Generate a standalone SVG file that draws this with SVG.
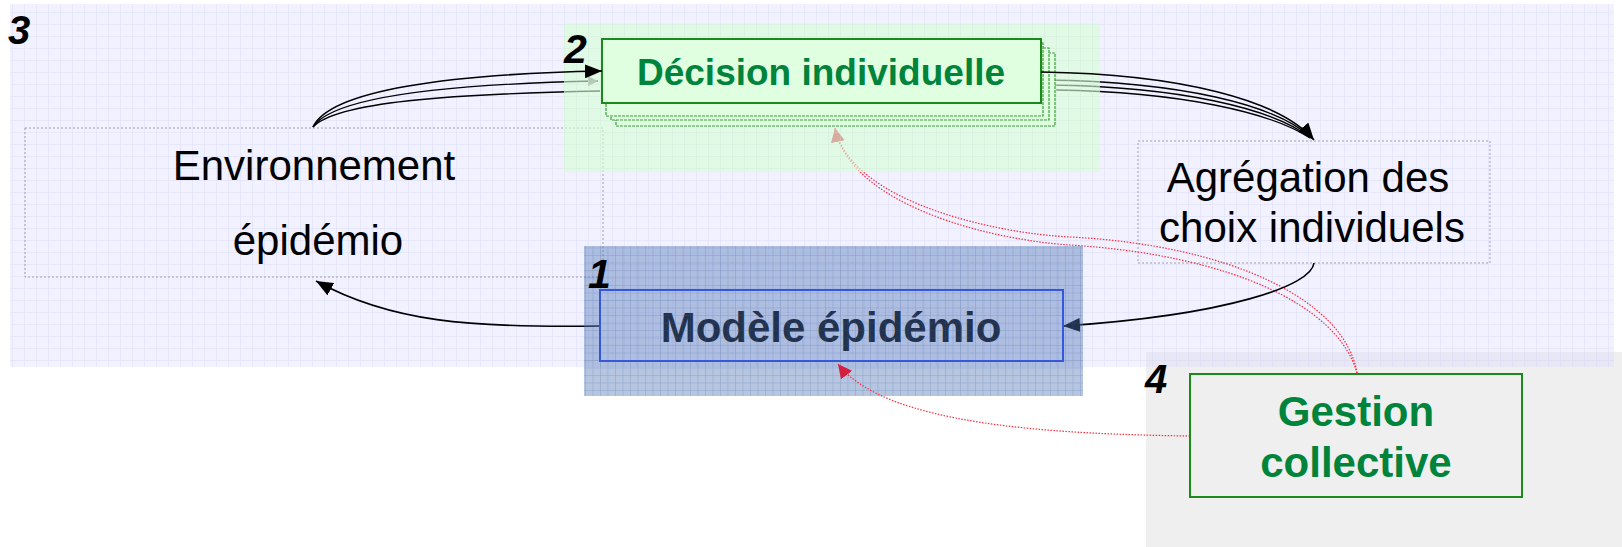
<svg xmlns="http://www.w3.org/2000/svg" width="1622" height="547" viewBox="0 0 1622 547">
<style>
.txt{font-family:"Liberation Sans",Arial,sans-serif;font-size:42px;fill:#000;text-anchor:middle}
.bold{font-weight:bold}
.num{font-family:"Liberation Sans",Arial,sans-serif;font-weight:bold;font-style:italic;fill:#000}
.dashbox{fill:none;stroke:#a0a0a8;stroke-width:1;stroke-dasharray:2 2}
.conn{fill:none;stroke:#000;stroke-width:1.6}
.shadowconn{fill:none;stroke:#000;stroke-width:1.3}
.red{fill:none;stroke:#ff2a3a;stroke-width:1.2;stroke-dasharray:1.5 1.5}
.green{fill:#00843c}
</style>
<defs>
<pattern id="gridLav" width="12" height="12" patternUnits="userSpaceOnUse"><path d="M12 0H0V12" fill="none" stroke="#d2d2f2" stroke-width="1"/></pattern>
<pattern id="gridGreen" width="12" height="12" patternUnits="userSpaceOnUse"><path d="M12 0H0V12" fill="none" stroke="#cfeccf" stroke-width="1"/></pattern>
<pattern id="gridBlue" width="7.5" height="7.5" patternUnits="userSpaceOnUse"><path d="M7.5 0H0V7.5" fill="none" stroke="#3a5e98" stroke-width="1" stroke-opacity="0.35"/></pattern>
<marker id="arr" markerUnits="userSpaceOnUse" markerWidth="18" markerHeight="14" refX="17" refY="7" orient="auto"><path d="M0,0 L17,7 L0,14 z" fill="#000"/></marker>
<marker id="arrGray" markerUnits="userSpaceOnUse" markerWidth="11" markerHeight="10" refX="10" refY="5" orient="auto"><path d="M0,0 L10,5 L0,10 z" fill="#777"/></marker>
<marker id="arrRed" markerUnits="userSpaceOnUse" markerWidth="15" markerHeight="14" refX="14" refY="7" orient="auto"><path d="M0,0 L14,7 L0,14 z" fill="#d42040"/></marker>
</defs>
<rect width="1622" height="547" fill="#fff"/>
<g id="zone4"><rect x="1146" y="352" width="476" height="195" fill="#efefef"/></g>
<g id="zone3">
<rect x="10" y="4" width="1604" height="363" fill="#dcdcff" fill-opacity="0.4"/>
<rect x="10" y="4" width="1604" height="363" fill="url(#gridLav)" opacity="0.6"/>
</g>
<g id="env"><rect class="dashbox" x="25" y="128" width="578" height="149"/></g>
<g id="agr"><rect class="dashbox" x="1138" y="141" width="352" height="122"/></g>
<g id="connectors-back">
<path class="shadowconn" d="M313,127 C333,96 450,84 598,81" marker-end="url(#arrGray)"/>
<path class="shadowconn" d="M313,127 C336,102 450,94 600,91"/>
<path class="shadowconn" d="M1046,80 C1180,82 1275,104 1312,138"/>
<path class="shadowconn" d="M1051,85 C1180,87 1272,108 1311,138"/>
<path class="shadowconn" d="M1056,90 C1180,92 1270,112 1310,138"/>
<path class="red" d="M1357,373 C1345,300 1230,245 1070,237 C990,233 850,200 835,128" marker-end="url(#arrRed)"/>
<path class="red" d="M1357,373 C1338,305 1230,255 1070,245 C990,240 850,205 835,128"/>
</g>
<g id="zone2">
<rect x="564" y="23" width="536" height="149" fill="#d6ffd6" fill-opacity="0.62"/>
<rect x="564" y="23" width="536" height="149" fill="url(#gridGreen)" opacity="0.5"/>
</g>
<g id="decision">
<rect x="616" y="53" width="439" height="73" fill="#e0ffe0" stroke="#3c9c3c" stroke-width="1.2" stroke-dasharray="3 1"/>
<rect x="611" y="48" width="438" height="72" fill="#e0ffe0" stroke="#3c9c3c" stroke-width="1.2" stroke-dasharray="3 1"/>
<rect x="606" y="43" width="437" height="73" fill="#e0ffe0" stroke="#3c9c3c" stroke-width="1.2" stroke-dasharray="3 1"/>
<rect x="602" y="39" width="439" height="64" fill="#e0ffe0" stroke="#1a8a1a" stroke-width="2"/>
<text class="txt bold green" x="821" y="85" style="font-size:37px">Décision individuelle</text>
</g>
<g id="connectors">
<path class="conn" d="M313,127 C330,90 450,74 602,71" marker-end="url(#arr)"/>
<path class="conn" d="M1041,72 C1180,74 1280,100 1314,140" marker-end="url(#arr)"/>
<path class="conn" d="M1314,263 C1312,285 1230,315 1063,326" marker-end="url(#arr)"/>
<path class="conn" d="M600,326 C470,328 390,322 316,281" marker-end="url(#arr)"/>
</g>
<g id="modele">
<rect x="600" y="290" width="463" height="71" fill="none" stroke="#2040ff" stroke-width="2"/>
<text class="txt bold" x="831" y="342" style="fill:#000">Modèle épidémio</text>
</g>
<g id="zone1">
<rect x="584" y="246" width="499" height="150" fill="#5078b8" fill-opacity="0.42"/>
<rect x="584" y="246" width="499" height="150" fill="url(#gridBlue)"/>
</g>
<g id="connectors-red">
<path class="red" d="M1190,436 C1050,434 885,425 838,364" marker-end="url(#arrRed)"/>
</g>
<g id="gestion">
<rect x="1190" y="374" width="332" height="123" fill="none" stroke="#1a8a1a" stroke-width="2"/>
<text class="txt bold green" x="1356" y="426">Gestion</text>
<text class="txt bold green" x="1356" y="477">collective</text>
</g>
<g id="labels">
<text class="txt" x="314" y="180">Environnement</text>
<text class="txt" x="318" y="255">épidémio</text>
<text class="txt" x="1308" y="192">Agrégation des</text>
<text class="txt" x="1312" y="242">choix individuels</text>
<text class="num" x="8" y="44" font-size="40">3</text>
<text class="num" x="564" y="63" font-size="41">2</text>
<text class="num" x="588" y="288" font-size="41">1</text>
<text class="num" x="1145" y="393" font-size="40">4</text>
</g>
</svg>
